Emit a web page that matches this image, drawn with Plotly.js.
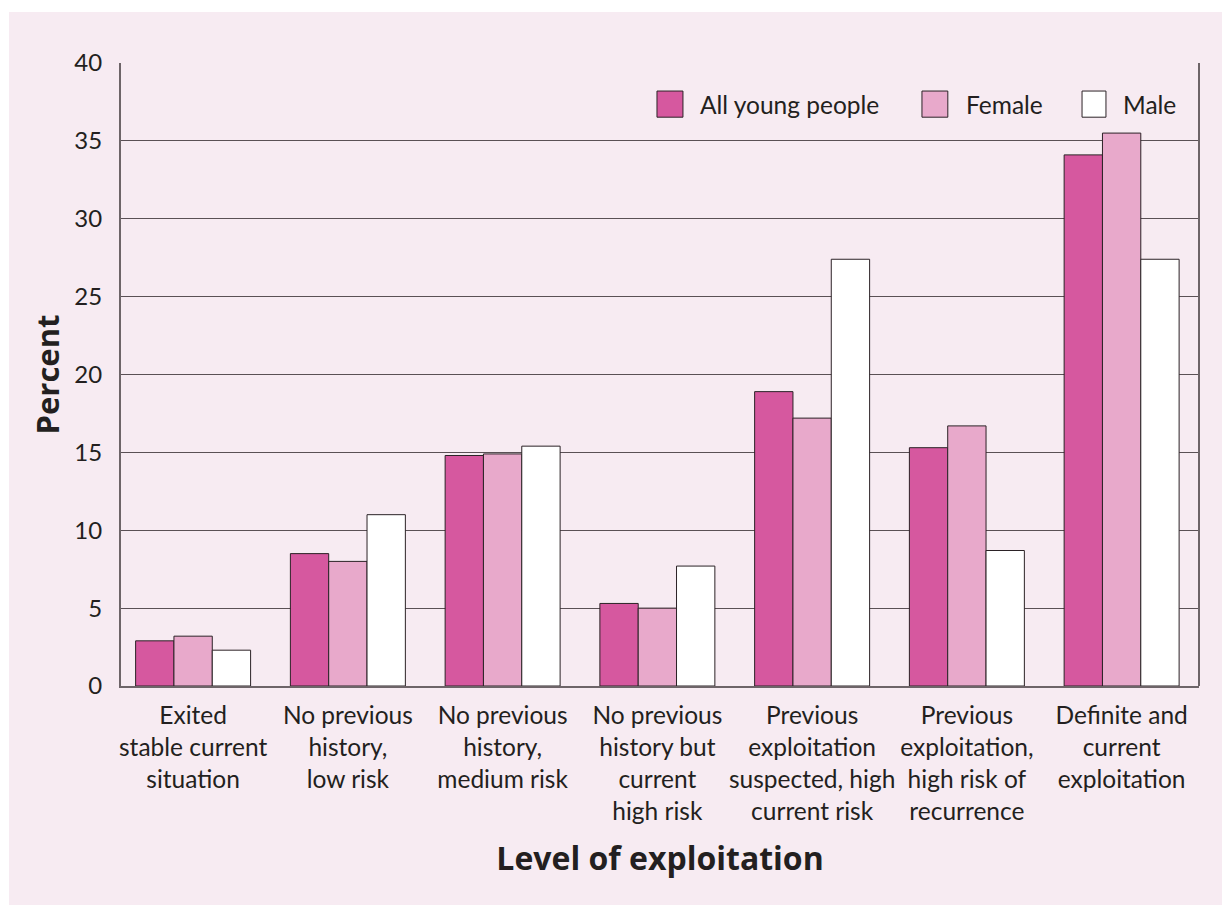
<!DOCTYPE html>
<html>
<head>
<meta charset="utf-8">
<script src="https://cdn.plot.ly/plotly-3.0.1.min.js"></script>
<style>
  html, body { margin: 0; padding: 0; background: #ffffff; }
  #chart { position: absolute; left: 9px; top: 12px; width: 1213px; height: 893px; }
</style>
</head>
<body>
<div id="chart"></div>
<script>
const categories = [
  "Exited<br>stable current<br>situation",
  "No previous<br>history,<br>low risk",
  "No previous<br>history,<br>medium risk",
  "No previous<br>history but<br>current<br>high risk",
  "Previous<br>exploitation<br>suspected, high<br>current risk",
  "Previous<br>exploitation,<br>high risk of<br>recurrence",
  "Definite and<br>current<br>exploitation"
];
const allYoungPeople = [2.9, 8.5, 14.8, 5.3, 18.9, 15.3, 34.1];
const female = [3.2, 8.0, 14.9, 5.0, 17.2, 16.7, 35.5];
const male = [2.3, 11.0, 15.4, 7.7, 27.4, 8.7, 27.4];
const seriesNames = ["All young people", "Female", "Male"];
const seriesColors = ["#d6589f", "#e8a9cb", "#ffffff"];
const yTicks = [0, 5, 10, 15, 20, 25, 30, 35, 40];

const FONT = "Lato, 'Open Sans', sans-serif";
const seriesValues = [allYoungPeople, female, male];

const traces = seriesValues.map((vals, i) => ({
  type: "bar",
  name: seriesNames[i],
  x: categories,
  y: vals,
  marker: { color: seriesColors[i], line: { color: "#2b2226", width: 1 } },
  showlegend: false,
  hoverinfo: "y+name"
}));

// custom legend (large square swatches) in paper coordinates
const legX = [[0.4972, 0.5213], [0.743, 0.767], [0.8915, 0.9137]];
const legTextX = [0.5353, 0.782, 0.9276];
const shapes = [];
const annotations = [];
seriesNames.forEach((n, i) => {
  shapes.push({
    type: "rect", xref: "paper", yref: "paper",
    x0: legX[i][0], x1: legX[i][1], y0: 0.913, y1: 0.955,
    fillcolor: seriesColors[i], line: { color: "#2b2226", width: 1 }
  });
  annotations.push({
    xref: "paper", yref: "paper", x: legTextX[i], y: 0.933,
    xanchor: "left", yanchor: "middle", showarrow: false,
    text: n, font: { family: FONT, size: 24.5, color: "#231f20" }
  });
});

const layout = {
  width: 1213, height: 893,
  paper_bgcolor: "#f7ebf2",
  plot_bgcolor: "#f7ebf2",
  margin: { l: 112, r: 23, t: 51, b: 219 },
  barmode: "group",
  bargap: 0.257,
  bargroupgap: 0,
  font: { family: FONT, size: 24, color: "#231f20" },
  xaxis: {
    type: "category",
    range: [-0.466, 6.5],
    showline: true, linecolor: "#6d6468", linewidth: 2,
    mirror: false,
    ticks: "",
    tickangle: 0,
    ticklabelstandoff: 7,
    tickfont: { family: FONT, size: 24.5, color: "#231f20" },
    title: { text: "<b>Level of exploitation</b>", font: { family: "'Open Sans', Lato, sans-serif", size: 32, color: "#231f20", weight: 800 }, standoff: 24 },
    automargin: false
  },
  yaxis: {
    range: [0, 40],
    tickvals: yTicks,
    ticktext: yTicks.map(String),
    showgrid: true, gridcolor: "#5a5055", gridwidth: 1,
    showline: true, linecolor: "#6d6468", linewidth: 2,
    zeroline: false,
    ticks: "outside", ticklen: 12, tickcolor: "rgba(0,0,0,0)",
    tickfont: { family: FONT, size: 24, color: "#231f20" },
    title: { text: "<b>Percent</b>", font: { family: "'Open Sans', Lato, sans-serif", size: 31, color: "#231f20", weight: 800 }, standoff: 6 },
    automargin: false
  },
  shapes: shapes.concat([
    { type: "line", xref: "paper", yref: "paper", x0: 1, x1: 1, y0: 0, y1: 1, line: { color: "#6d6468", width: 2 } }
  ]),
  annotations: annotations
};

Plotly.newPlot("chart", traces, layout, { displayModeBar: false, staticPlot: true });
</script>
</body>
</html>
